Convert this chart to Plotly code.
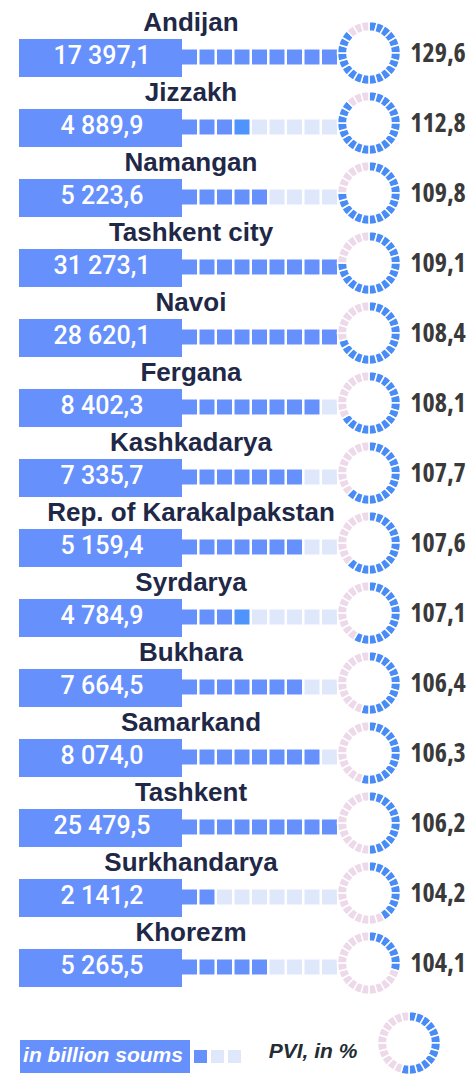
import plotly.graph_objects as go

# data read from the infographic
regions = ["Andijan", "Jizzakh", "Namangan", "Tashkent city", "Navoi", "Fergana",
           "Kashkadarya", "Rep. of Karakalpakstan", "Syrdarya", "Bukhara",
           "Samarkand", "Tashkent", "Surkhandarya", "Khorezm"]
volume = [17397.1, 4889.9, 5223.6, 31273.1, 28620.1, 8402.3, 7335.7,
          5159.4, 4784.9, 7664.5, 8074.0, 25479.5, 2141.2, 5265.5]
pvi = [129.6, 112.8, 109.8, 109.1, 108.4, 108.1, 107.7,
       107.6, 107.1, 106.4, 106.3, 106.2, 104.2, 104.1]
# filled squares out of 9 (a .5 means the last one is drawn in the brighter tone)
bar_squares = [9, 3.5, 5, 9, 9, 8, 7, 7, 3.5, 7, 8, 9, 2, 5]
# blue ring segments out of 24
ring_segments = [21, 21, 18, 18, 17, 16, 15, 15, 14, 13, 13, 12, 10, 7]
legend_squares = [1, 0, 0]
legend_ring = 13

BLUE = '#6690fc'
BRIGHT = '#4f93fd'
PALE = '#dfe7fb'
RING_BLUE = '#4a8cf6'
PINK = '#edd9e9'
NAVY = '#1f2847'
FONT = 'Liberation Sans, Arial, sans-serif'

W, H = 475, 1075
PITCH = 70
TOP = 58  # pixel centre of the first box


def fmt(v):
    return f"{v:,.1f}".replace(',', ' ').replace('.', ',')


rows = list(range(len(regions)))
fig = go.Figure()

# value boxes
fig.add_trace(go.Bar(
    y=rows, x=[163] * len(rows), base=19, orientation='h',
    width=38 / PITCH, marker=dict(color=BLUE, line_width=0),
    hoverinfo='skip'
))
fig.add_trace(go.Scatter(
    y=rows, x=[102] * len(rows), mode='text',
    text=[fmt(v) for v in volume],
    textfont=dict(family='Roboto', size=25, weight=500, color='white'),
    hoverinfo='skip'
))

# region names
fig.add_trace(go.Scatter(
    y=[r - 34 / PITCH for r in rows], x=[191] * len(rows), mode='text',
    text=[f"<b>{n}</b>" for n in regions],
    textfont=dict(family=FONT, size=26, color=NAVY),
    hoverinfo='skip'
))

# square strips
sq_x, sq_y, sq_c = [], [], []
for r, filled in zip(rows, bar_squares):
    for k in range(9):
        sq_x.append(189.5 + 17.5 * k)
        sq_y.append(r - 1 / PITCH)
        if k + 1 <= filled:
            sq_c.append(BLUE)
        elif k < filled:
            sq_c.append(BRIGHT)
        else:
            sq_c.append(PALE)
fig.add_trace(go.Scatter(
    x=sq_x, y=sq_y, mode='markers',
    marker=dict(symbol='square', size=15, color=sq_c, line_width=0),
    hoverinfo='skip'
))

# PVI values
fig.add_trace(go.Scatter(
    y=[r - 2.5 / PITCH for r in rows], x=[438] * len(rows), mode='text',
    text=[f"<span style='font-stretch:75%'><b>{str(v).replace('.', ',')}</b></span>" for v in pvi],
    textfont=dict(family='Open Sans', size=26, color='#3a3a3a'),
    hoverinfo='skip'
))


# rings
def ring(cx, cy, n_blue, d=63):
    return go.Pie(
        values=[1] * 24, sort=False, direction='clockwise', rotation=0,
        hole=0.7, textinfo='none', hoverinfo='skip', showlegend=False,
        marker=dict(colors=[RING_BLUE if i < n_blue else PINK for i in range(24)],
                    line=dict(color='white', width=1.5)),
        domain=dict(x=[(cx - d / 2) / W, (cx + d / 2) / W],
                    y=[1 - (cy + d / 2) / H, 1 - (cy - d / 2) / H])
    )


for r, n in zip(rows, ring_segments):
    fig.add_trace(ring(369, TOP - 5 + PITCH * r, n))

# legend row
leg = (1056.5 - TOP) / PITCH
fig.add_trace(go.Bar(
    y=[leg], x=[170], base=20, orientation='h', width=33 / PITCH,
    marker=dict(color=BLUE, line_width=0), hoverinfo='skip'
))
fig.add_trace(go.Scatter(
    y=[leg], x=[103], mode='text', text=['<b><i>in billion soums</i></b>'],
    textfont=dict(family=FONT, size=21, color='white'), hoverinfo='skip'
))
fig.add_trace(go.Scatter(
    x=[200.5 + 17 * k for k in range(3)], y=[leg] * 3, mode='markers',
    marker=dict(symbol='square', size=13,
                color=[BLUE if s else PALE for s in legend_squares], line_width=0),
    hoverinfo='skip'
))
fig.add_trace(go.Scatter(
    y=[leg - 4 / PITCH], x=[313], mode='text', text=['<b><i>PVI, in %</i></b>'],
    textfont=dict(family=FONT, size=21, color='#232d33'), hoverinfo='skip'
))
fig.add_trace(ring(409, 1043, legend_ring))

fig.update_layout(
    width=W, height=H,
    margin=dict(l=0, r=0, t=0, b=0),
    paper_bgcolor='white', plot_bgcolor='white',
    showlegend=False, barmode='overlay',
    xaxis=dict(range=[0, W], visible=False, fixedrange=True),
    yaxis=dict(range=[(H - TOP) / PITCH, -TOP / PITCH], visible=False, fixedrange=True),
)

fig.write_html("out.html", config={'displayModeBar': False},
               post_script="document.body.style.margin='0px';")
